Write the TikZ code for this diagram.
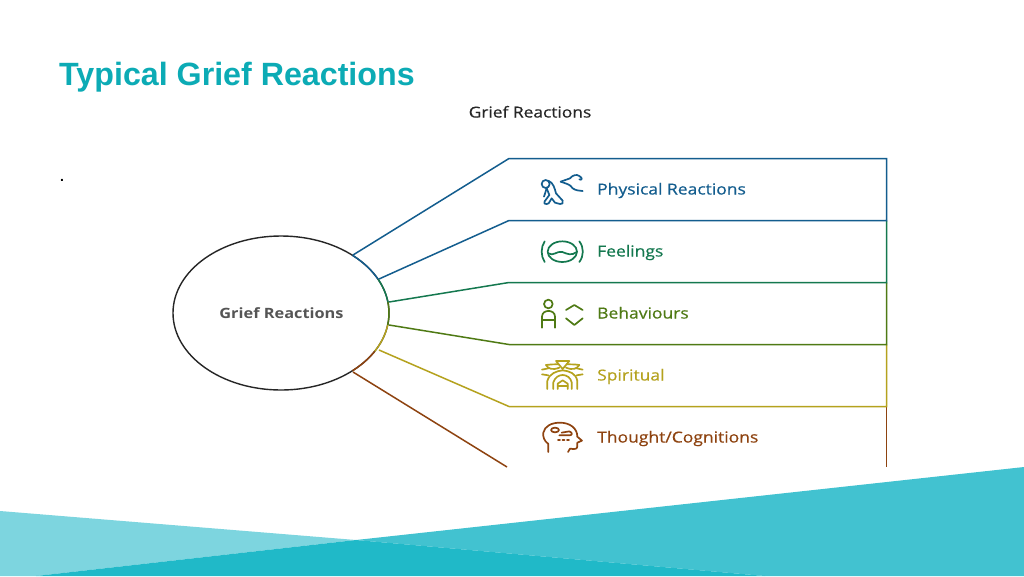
\documentclass[tikz,border=0pt]{standalone}
\usepackage{fontspec}
\usetikzlibrary{shapes.geometric}
\setmainfont{Liberation Sans}
\newfontfamily\lblfont{Open Sans}[FakeStretch=1.15,FakeBold=0.45]
\newfontfamily\hubfont{Open Sans}[FakeStretch=1.15,BoldFont={Open Sans Bold}]
\definecolor{cblue}{HTML}{135D8E}
\definecolor{cgreen}{HTML}{14784F}
\definecolor{colive}{HTML}{4F7A14}
\definecolor{cyellow}{HTML}{B5A21E}
\definecolor{cbrown}{HTML}{8E4310}
\definecolor{ctitle}{HTML}{0CABB5}
\definecolor{lightteal}{HTML}{7DD5DF}
\definecolor{midteal}{HTML}{42C2D0}
\definecolor{darkteal}{HTML}{20B9C8}
\definecolor{ctext}{HTML}{555555}
\tikzset{
  edgeline/.style={line width=1.5pt,line join=miter},
  icon/.style={line width=1.7pt,line cap=round,line join=round},
  rowlabel/.style={anchor=base west,inner sep=0pt,font=\lblfont\fontsize{15.2}{18}\selectfont},
  iconzoom/.style={x=0.3333pt,y=-0.3333pt}
}
\begin{document}
\begin{tikzpicture}[x=1pt,y=-1pt]
\useasboundingbox (0,0) rectangle (1024,576);
\fill[white] (0,0) rectangle (1024,576);
% background shapes
\fill[lightteal] (0,511) -- (356,540) -- (36,576) -- (0,576) -- cycle;
\fill[midteal] (356,540) -- (1024,467) -- (1024,576) -- (765,576) -- cycle;
\fill[darkteal] (356,540) -- (765,576) -- (36,576) -- cycle;
% titles
\node[anchor=base west,inner sep=0pt,text=ctitle,font=\bfseries\fontsize{32.2}{36}\selectfont] (title) at (59,85) {Typical Grief Reactions};
\node[anchor=base,inner sep=0pt,text=black!85,font=\lblfont\fontsize{15.1}{18}\selectfont] (sub) at (530,117.5) {Grief Reactions};
\node[anchor=base,inner sep=0pt,font=\bfseries\fontsize{14}{16}\selectfont] (dot) at (62,181) {.};
% circle
\node[draw=black!85,line width=1.4pt,ellipse,minimum width=216pt,minimum height=154pt,inner sep=0pt] (hub) at (281,313) {};
\node[anchor=base,inner sep=0pt,text=ctext,font=\hubfont\bfseries\fontsize{14.2}{17}\selectfont] (hublabel) at (281.5,318.5) {Grief Reactions};
\draw[edgeline,cblue] plot[smooth,domain=26:48.5,samples=10] ({281+108*cos(\x)},{313-77*sin(\x)});
\draw[edgeline,cgreen] plot[smooth,domain=8:26,samples=10] ({281+108*cos(\x)},{313-77*sin(\x)});
\draw[edgeline,colive] plot[smooth,domain=-9:8,samples=10] ({281+108*cos(\x)},{313-77*sin(\x)});
\draw[edgeline,cyellow] plot[smooth,domain=-30:-9,samples=10] ({281+108*cos(\x)},{313-77*sin(\x)});
\draw[edgeline,cbrown] plot[smooth,domain=-48.5:-30,samples=10] ({281+108*cos(\x)},{313-77*sin(\x)});
% junctions
\coordinate (j1) at (353,255);
\coordinate (j2) at (379,279);
\coordinate (j3) at (389,302);
\coordinate (j4) at (389,325);
\coordinate (j5) at (379,350);
\coordinate (j6) at (353,372);
\coordinate (a0) at (509,158.5); \coordinate (b0) at (886.5,158.5);
\coordinate (a1) at (509,220.5); \coordinate (b1) at (886.5,220.5);
\coordinate (a2) at (509,282.5); \coordinate (b2) at (886.5,282.5);
\coordinate (a3) at (509,344.5); \coordinate (b3) at (886.5,344.5);
\coordinate (a4) at (509,406.5); \coordinate (b4) at (886.5,406.5);
\coordinate (a5) at (507,467); \coordinate (b5) at (886.5,467);
% rows
\draw[edgeline,cbrown] (j6) -- (a5);
\draw[edgeline,cbrown] (b4) -- (b5);
\draw[edgeline,cyellow] (j5) -- (a4) -- (b4) -- (b3);
\draw[edgeline,colive] (j4) -- (a3) -- (b3) -- (b2);
\draw[edgeline,cgreen] (j3) -- (a2) -- (b2) -- (b1);
\draw[edgeline,cblue] (j2) -- (a1) -- (b1) -- (b0) -- (a0) -- (j1);
% labels
\node[rowlabel,text=cblue] (l1) at (597,194.5) {Physical Reactions};
\node[rowlabel,text=cgreen] (l2) at (597,256.5) {Feelings};
\node[rowlabel,text=colive] (l3) at (597,318.5) {Behaviours};
\node[rowlabel,text=cyellow] (l4) at (597,380.5) {Spiritual};
\node[rowlabel,text=cbrown] (l5) at (597,442.5) {Thought/Cognitions};
% icon physical
\begin{scope}[shift={(520,160)},iconzoom,icon,draw=cblue]
\draw (77,72) circle[radius=12];
\draw (85,62) .. controls (100,68) and (104,85) .. (108,100) -- (128,122) .. controls (130,130) and (127,133) .. (120,132) -- (105,128) -- (95,115) -- (86,130) .. controls (78,134) and (70,132) .. (74,124) -- (88,105) -- (80,85);
\draw (80,85) -- (72,110);
\draw (122,65) -- (150,55) .. controls (158,45) and (170,42) .. (178,48) .. controls (190,55) and (185,62) .. (178,58);
\draw (122,65) .. controls (140,72) and (150,72) .. (158,85) .. controls (168,92) and (178,92) .. (188,93);
\end{scope}
% icon feelings
\begin{scope}[shift={(520,160)},iconzoom,icon,draw=cgreen]
\draw (74,244) .. controls (62,262) and (62,288) .. (74,306);
\draw (178,244) .. controls (192,262) and (192,288) .. (178,306);
\draw (127,275) ellipse[x radius=44,y radius=31];
\draw (85,280) .. controls (100,290) and (110,272) .. (127,276) .. controls (142,282) and (155,288) .. (170,276);
\end{scope}
% icon behaviours
\begin{scope}[shift={(520,285)},iconzoom,icon,draw=colive]
\draw (85,57) circle[radius=13];
\draw (66,128) -- (66,95) .. controls (66,72) and (105,72) .. (105,95) -- (105,128);
\draw (66,105) -- (105,105);
\draw (138,75) -- (163,60) -- (188,75);
\draw (138,100) -- (163,120) -- (188,100);
\end{scope}
% icon spiritual
\begin{scope}[shift={(520,285)},iconzoom,icon,draw=cyellow]
\draw (108,228) -- (148,228) -- (128,252) -- cycle;
\draw (78,240) .. controls (90,238) and (100,238) .. (115,238);
\draw (78,240) .. controls (85,252) and (98,256) .. (118,248);
\draw (178,240) .. controls (165,238) and (155,238) .. (140,238);
\draw (178,240) .. controls (170,252) and (158,256) .. (138,248);
\draw (66,254) -- (85,250);
\draw (66,268) -- (85,271);
\draw (188,254) -- (170,250);
\draw (188,268) -- (170,271);
\draw (82,312) -- (82,288) .. controls (88,265) and (110,258) .. (128,256) .. controls (148,258) and (168,265) .. (172,288) -- (172,312);
\draw (100,312) -- (100,292) .. controls (105,276) and (118,270) .. (128,270) .. controls (140,270) and (152,278) .. (155,292) -- (155,312);
\draw (113,312) -- (113,296) -- (128,286) -- (143,296) -- (143,312);
\draw (113,302) -- (143,302);
\end{scope}
% icon thought
\begin{scope}[shift={(520,410)},iconzoom,icon,draw=cbrown]
\draw (85,126) -- (85,102) .. controls (72,92) and (68,80) .. (70,68) .. controls (74,48) and (95,38) .. (120,38) .. controls (150,38) and (172,55) .. (172,80) -- (186,92) -- (172,98) -- (172,108) .. controls (172,118) and (165,118) .. (150,116) -- (144,126);
\draw (105,60) ellipse[x radius=12,y radius=7];
\draw (125,68) -- (148,64) .. controls (158,68) and (158,76) .. (148,76) -- (118,76);
\draw[dash pattern=on 2pt off 2.5pt] (114,90) -- (148,90);
\end{scope}
\end{tikzpicture}
\end{document}
